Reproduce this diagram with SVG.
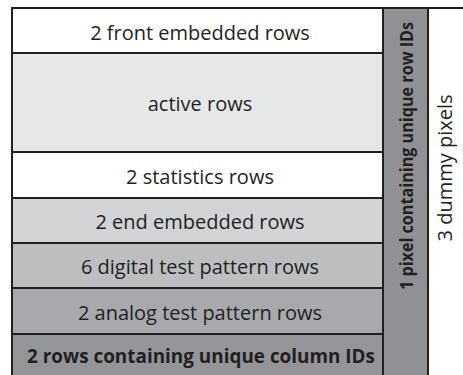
<svg xmlns="http://www.w3.org/2000/svg" width="463" height="375" viewBox="0 0 463 375">
<style>
.ln{stroke:#231f20;stroke-width:2;fill:none}
.t{font-family:"Open Sans","Noto Sans",sans-serif;font-size:20px;fill:#231f20;text-anchor:middle;dominant-baseline:central}
.b{font-weight:bold;font-size:19px}
.v{font-size:17.5px}
</style>
<rect width="463" height="375" fill="#fff"/>
<g id="front"><rect x="12" y="8" width="371" height="45" fill="#ffffff"/><text class="t" x="200" y="32">2 front embedded rows</text></g>
<g id="active"><rect x="12" y="53" width="371" height="99" fill="#e6e7e8"/><text class="t" x="200" y="103">active rows</text></g>
<g id="stats"><rect x="12" y="152" width="371" height="46" fill="#ffffff"/><text class="t" x="200" y="176">2 statistics rows</text></g>
<g id="endemb"><rect x="12" y="198" width="371" height="45" fill="#d1d3d4"/><text class="t" x="200" y="221.5">2 end embedded rows</text></g>
<g id="digital"><rect x="12" y="243" width="371" height="45" fill="#bcbec0"/><text class="t" x="200" y="266.5">6 digital test pattern rows</text></g>
<g id="analog"><rect x="12" y="288" width="371" height="46" fill="#a7a9ac"/><text class="t" x="200" y="312">2 analog test pattern rows</text></g>
<g id="colids"><rect x="12" y="334" width="371" height="41" fill="#939598"/><text class="t b" x="201" y="355.5" textLength="348" lengthAdjust="spacingAndGlyphs">2 rows containing unique column IDs</text></g>
<g id="rowids"><rect x="383" y="8" width="45" height="367" fill="#8f9194"/><text class="t b v" transform="translate(406,156) rotate(-90)" textLength="268" lengthAdjust="spacingAndGlyphs">1 pixel containing unique row IDs</text></g>
<g id="dummy"><text class="t" transform="translate(444,168) rotate(-90)">3 dummy pixels</text></g>
<g id="lines">
<line class="ln" x1="12" y1="8" x2="463" y2="8"/>
<line class="ln" x1="12" y1="7" x2="12" y2="375"/>
<line class="ln" x1="383" y1="8" x2="383" y2="375"/>
<line class="ln" x1="428" y1="8" x2="428" y2="375"/>
<line class="ln" x1="12" y1="53" x2="383" y2="53"/>
<line class="ln" x1="12" y1="152" x2="383" y2="152"/>
<line class="ln" x1="12" y1="198" x2="383" y2="198"/>
<line class="ln" x1="12" y1="243" x2="383" y2="243"/>
<line class="ln" x1="12" y1="288" x2="383" y2="288"/>
<line class="ln" x1="12" y1="334" x2="383" y2="334"/>
</g>
</svg>
